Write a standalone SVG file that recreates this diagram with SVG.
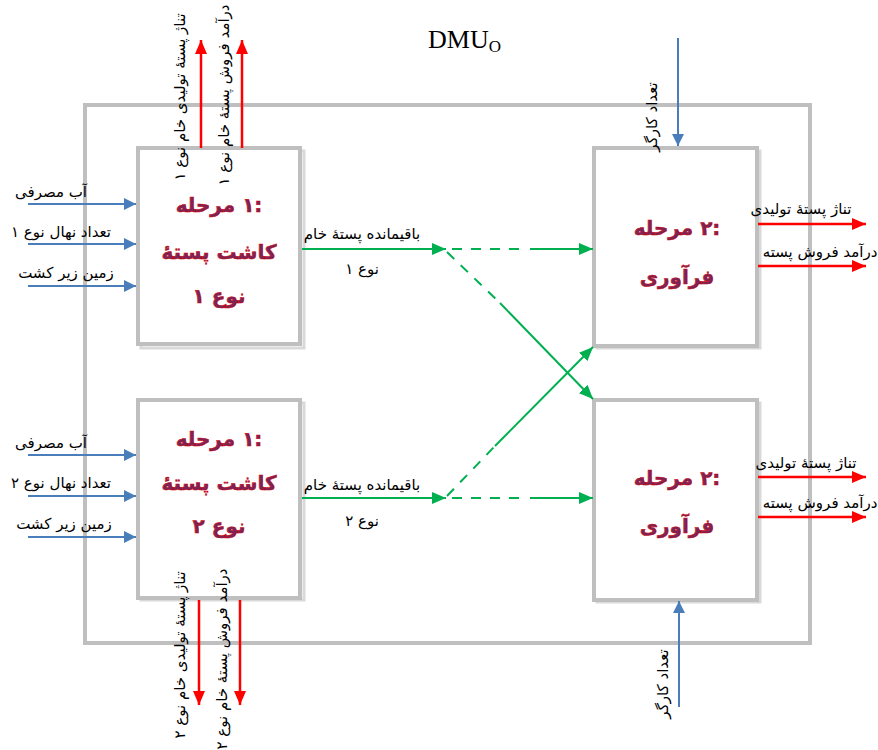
<svg xmlns="http://www.w3.org/2000/svg" width="878" height="750" viewBox="0 0 878 750">
<style>
.lbl{font-family:"DejaVu Sans",sans-serif;font-size:15px;fill:#000;text-anchor:middle}
.ttl{font-family:"DejaVu Sans",sans-serif;font-size:20px;font-weight:bold;fill:#7b2458;stroke:#d40000;stroke-width:0.5;text-anchor:middle}
.box{fill:#fff;stroke:#bfbfbf;stroke-width:4}
.shadow{fill:none;stroke:#d9d9d9;stroke-width:3}
.blue{stroke:#4a7ebb;stroke-width:2;fill:none}
.red{stroke:#ff0000;stroke-width:2.5;fill:none}
.green{stroke:#00b050;stroke-width:2;fill:none}
.dash{stroke-dasharray:10,9}
</style>
<defs>
<marker id="ab" viewBox="0 0 12 12" refX="12" refY="6" markerWidth="12" markerHeight="12" markerUnits="userSpaceOnUse" orient="auto"><path d="M0,0 L12,6 L0,12 z" fill="#4a7ebb"/></marker>
<marker id="ar" viewBox="0 0 14 12" refX="14" refY="6" markerWidth="14" markerHeight="12" markerUnits="userSpaceOnUse" orient="auto"><path d="M0,0 L14,6 L0,12 z" fill="#ff0000"/></marker>
<marker id="ag" viewBox="0 0 14 12" refX="14" refY="6" markerWidth="14" markerHeight="12" markerUnits="userSpaceOnUse" orient="auto"><path d="M0,0 L14,6 L0,12 z" fill="#00b050"/></marker>
</defs>
<rect width="878" height="750" fill="#fff"/>
<g id="dmu">
<rect x="85" y="105" width="725" height="538" fill="none" stroke="#bfbfbf" stroke-width="4"/>
<text x="428" y="48" font-family="Liberation Serif,serif" font-size="26">DMU<tspan font-size="17" dy="4">O</tspan></text>
</g>
<g id="stage1a">
<rect class="shadow" x="141" y="151" width="163" height="197"/>
<rect class="box" x="138" y="148" width="162" height="196"/>
<text class="ttl" x="219" y="212">مرحله‎ ۱:</text>
<text class="ttl" x="219" y="259">کاشت پستهٔ</text>
<text class="ttl" x="219" y="303">نوع ۱</text>
</g>
<g id="stage1b">
<rect class="shadow" x="141" y="403" width="163" height="197"/>
<rect class="box" x="138" y="400" width="162" height="198"/>
<text class="ttl" x="219" y="446">مرحله‎ ۱:</text>
<text class="ttl" x="219" y="490">کاشت پستهٔ</text>
<text class="ttl" x="219" y="533">نوع ۲</text>
</g>
<g id="stage2a">
<rect class="shadow" x="597" y="151" width="163" height="197"/>
<rect class="box" x="594" y="148" width="163" height="198"/>
<text class="ttl" x="677" y="235">مرحله‎ ۲:</text>
<text class="ttl" x="677" y="284">فرآوری</text>
</g>
<g id="stage2b">
<rect class="shadow" x="597" y="403" width="163" height="199"/>
<rect class="box" x="594" y="400" width="163" height="200"/>
<text class="ttl" x="677" y="485">مرحله‎ ۲:</text>
<text class="ttl" x="677" y="533">فرآوری</text>
</g>
<g id="connectors">
<line class="blue" x1="28" y1="204" x2="136" y2="204" marker-end="url(#ab)"/>
<line class="blue" x1="28" y1="244" x2="136" y2="244" marker-end="url(#ab)"/>
<line class="blue" x1="28" y1="286" x2="136" y2="286" marker-end="url(#ab)"/>
<line class="blue" x1="28" y1="455" x2="136" y2="455" marker-end="url(#ab)"/>
<line class="blue" x1="28" y1="496" x2="136" y2="496" marker-end="url(#ab)"/>
<line class="blue" x1="28" y1="537" x2="136" y2="537" marker-end="url(#ab)"/>
<line class="blue" x1="678" y1="38" x2="678" y2="146" marker-end="url(#ab)"/>
<line class="blue" x1="679" y1="707" x2="679" y2="601" marker-end="url(#ab)"/>
<line class="red" x1="201" y1="148" x2="201" y2="40" marker-end="url(#ar)"/>
<line class="red" x1="242" y1="148" x2="242" y2="40" marker-end="url(#ar)"/>
<line class="red" x1="199" y1="600" x2="199" y2="705" marker-end="url(#ar)"/>
<line class="red" x1="240" y1="600" x2="240" y2="705" marker-end="url(#ar)"/>
<line class="red" x1="758" y1="224" x2="866" y2="224" marker-end="url(#ar)"/>
<line class="red" x1="758" y1="266" x2="866" y2="266" marker-end="url(#ar)"/>
<line class="red" x1="758" y1="477" x2="866" y2="477" marker-end="url(#ar)"/>
<line class="red" x1="758" y1="517" x2="866" y2="517" marker-end="url(#ar)"/>
<line class="green" x1="302" y1="249" x2="446" y2="249" marker-end="url(#ag)"/>
<line class="green dash" x1="452" y1="249" x2="528" y2="249"/>
<line class="green" x1="530" y1="249" x2="593" y2="249" marker-end="url(#ag)"/>
<line class="green dash" x1="447" y1="252" x2="500" y2="303"/>
<line class="green" x1="500" y1="303" x2="593" y2="399" marker-end="url(#ag)"/>
<line class="green" x1="302" y1="498" x2="446" y2="498" marker-end="url(#ag)"/>
<line class="green dash" x1="452" y1="498" x2="528" y2="498"/>
<line class="green" x1="530" y1="498" x2="593" y2="498" marker-end="url(#ag)"/>
<line class="green dash" x1="447" y1="496" x2="495" y2="446"/>
<line class="green" x1="495" y1="446" x2="593" y2="347" marker-end="url(#ag)"/>
</g>
<g id="labels">
<text class="lbl" x="51" y="197">آب مصرفی</text>
<text class="lbl" x="61" y="237">تعداد نهال نوع ۱</text>
<text class="lbl" x="66" y="278">زمین زیر کشت</text>
<text class="lbl" x="51" y="448">آب مصرفی</text>
<text class="lbl" x="61" y="488">تعداد نهال نوع ۲</text>
<text class="lbl" x="64" y="529">زمین زیر کشت</text>
<text class="lbl" x="362" y="239">باقیمانده پستهٔ خام</text>
<text class="lbl" x="362" y="274">نوع ۱</text>
<text class="lbl" x="362" y="490">باقیمانده پستهٔ خام</text>
<text class="lbl" x="362" y="526">نوع ۲</text>
<text class="lbl" x="801" y="214">تناژ پستهٔ تولیدی</text>
<text class="lbl" x="820" y="257">درآمد فروش پسته</text>
<text class="lbl" x="806" y="468">تناژ پستهٔ تولیدی</text>
<text class="lbl" x="820" y="508">درآمد فروش پسته</text>
<text class="lbl" transform="translate(180,97) rotate(-90)" dy="0.35em">تناژ پستهٔ تولیدی خام نوع ۱</text>
<text class="lbl" transform="translate(224,95) rotate(-90)" dy="0.35em">درآمد فروش پستهٔ خام نوع ۱</text>
<text class="lbl" transform="translate(180,655) rotate(-90)" dy="0.35em">تناژ پستهٔ تولیدی خام نوع ۲</text>
<text class="lbl" transform="translate(222,659) rotate(-90)" dy="0.35em">درآمد فروش پستهٔ خام نوع ۲</text>
<text class="lbl" transform="translate(652,117) rotate(-90)" dy="0.35em">تعداد کارگر</text>
<text class="lbl" transform="translate(663,684) rotate(-90)" dy="0.35em">تعداد کارگر</text>
</g>
</svg>
